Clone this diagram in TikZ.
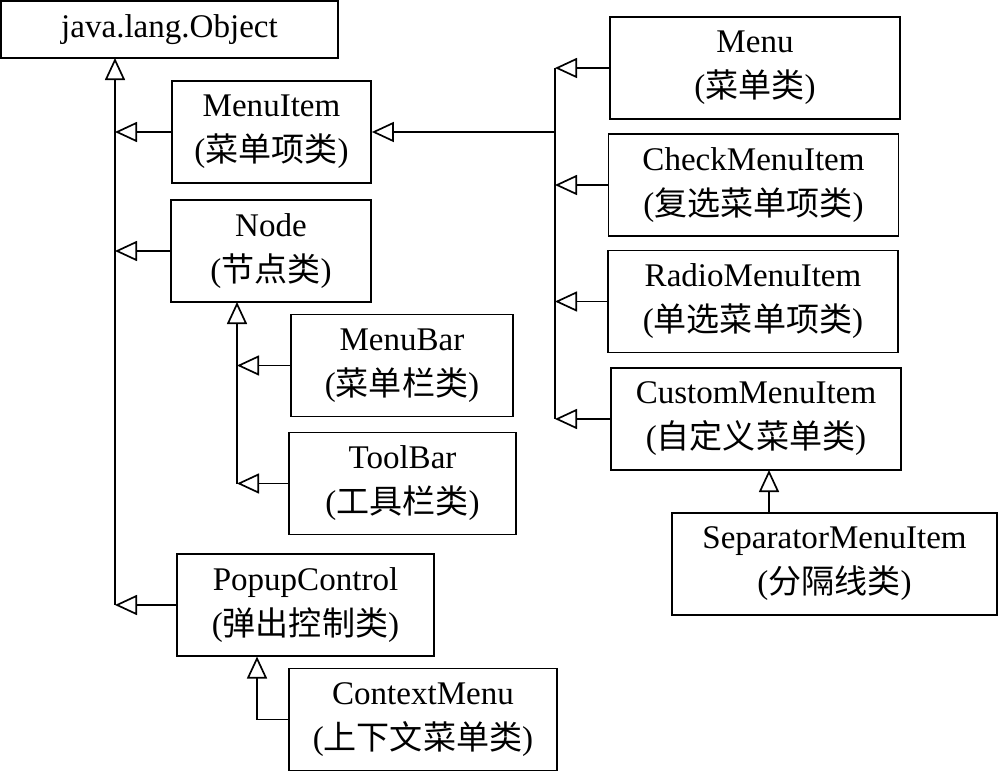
\documentclass[tikz,border=0pt]{standalone}
\usepackage{fontspec}
\setmainfont{Liberation Serif}
\newfontfamily\cjk{Noto Sans CJK SC}
\usetikzlibrary{arrows.meta,positioning,calc}
\newcommand{\zh}[1]{({\cjk #1})}
\tikzset{
  cls/.style={draw, line width=1.2pt, inner sep=0pt, align=center,
              minimum height=2.55cm, font=\fontsize{23.5}{32}\selectfont},
  inh/.style={line width=1.2pt, -{Triangle[open, length=0.55cm, width=0.5cm]}},
  lnk/.style={line width=1.2pt},
}

\begin{document}
\begin{tikzpicture}[x=0.025cm, y=-0.025cm]
  \useasboundingbox (0,0) rectangle (998,773);
  % left column
  \node[cls, minimum width=8.425cm, minimum height=1.425cm] (obj) at (169.5,29.5) {java.lang.Object};
  \node[cls, minimum width=4.975cm] (mitem) at (271.5,132) {MenuItem\\\zh{菜单项类}};
  \node[cls, minimum width=5cm] (nd) at (271,251) {Node\\\zh{节点类}};
  \node[cls, minimum width=5.55cm] (mbar) at (402,365.5) {MenuBar\\\zh{菜单栏类}};
  \node[cls, minimum width=5.675cm] (tbar) at (402.5,483.5) {ToolBar\\\zh{工具栏类}};
  \node[cls, minimum width=6.425cm] (popup) at (305.5,605) {PopupControl\\\zh{弹出控制类}};
  \node[cls, minimum width=6.7cm] (ctx) at (423,719.5) {ContextMenu\\\zh{上下文菜单类}};
  % right column
  \node[cls, minimum width=7.25cm] (menu) at (755,68) {Menu\\\zh{菜单类}};
  \node[cls, minimum width=7.25cm] (check) at (753.5,185) {CheckMenuItem\\\zh{复选菜单项类}};
  \node[cls, minimum width=7.25cm] (radio) at (753,301.5) {RadioMenuItem\\\zh{单选菜单项类}};
  \node[cls, minimum width=7.25cm] (custom) at (756,419) {CustomMenuItem\\\zh{自定义菜单类}};
  \node[cls, minimum width=8.125cm] (sep) at (834.5,564) {SeparatorMenuItem\\\zh{分隔线类}};
  % trunk points
  \coordinate (trunk) at (115,58);
  \coordinate (rtrunk) at (555,132);
  \coordinate (ndx) at (237,302);
  \coordinate (popx) at (257,656.5);
  \coordinate (custx) at (769,470);
  % inheritance
  \draw[inh] (popup.west -| trunk) -- (trunk);
  \foreach \c in {mitem, nd, popup}
    \draw[inh] (\c.west) -- (\c.west -| trunk);
  \draw[lnk] (menu.west -| rtrunk) -- (custom.west -| rtrunk);
  \draw[inh] (rtrunk) -- (mitem.east);
  \foreach \c in {menu, check, radio, custom}
    \draw[inh] (\c.west) -- (\c.west -| rtrunk);
  \draw[inh] (tbar.west -| ndx) -- (ndx);
  \foreach \c in {mbar, tbar}
    \draw[inh] (\c.west) -- (\c.west -| ndx);
  \draw[inh] (ctx.west) -| (popx);
  \draw[inh] (sep.north -| custx) -- (custx);
\end{tikzpicture}
\end{document}
